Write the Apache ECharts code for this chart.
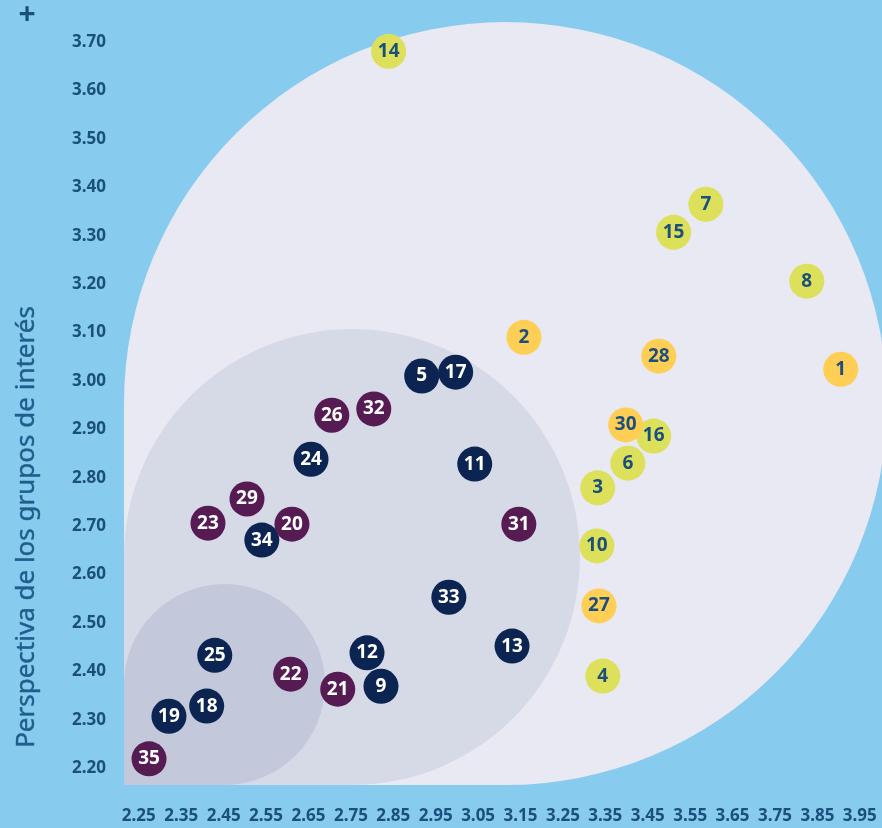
<!DOCTYPE html>
<html>
<head>
<meta charset="utf-8">
<script src="https://cdn.jsdelivr.net/npm/echarts@6/dist/echarts.min.js"></script>
<style>
html,body{margin:0;padding:0;background:#87CBEF;}
#chart{width:882px;height:828px;}
</style>
</head>
<body>
<div id="chart"></div>
<script>
// ---- data ----
const pointIds = ['1','2','3','4','5','6','7','8','9','10','11','12','13','14','15','16','17','18','19','20','21','22','23','24','25','26','27','28','29','30','31','32','33','34','35'];
const xValues = [3.905,3.158,3.332,3.344,2.917,3.403,3.587,3.825,2.821,3.330,3.042,2.788,3.130,2.839,3.511,3.464,2.997,2.410,2.321,2.611,2.719,2.608,2.413,2.656,2.429,2.705,3.335,3.476,2.505,3.398,3.146,2.804,2.981,2.540,2.274];
const yValues = [3.024,3.090,2.779,2.390,3.010,2.830,3.365,3.206,2.369,2.659,2.828,2.438,2.452,3.681,3.307,2.886,3.018,2.328,2.307,2.704,2.363,2.394,2.706,2.838,2.433,2.929,2.535,3.051,2.756,2.909,2.704,2.942,2.553,2.671,2.219];
const pointGroups = ['orange','orange','lime','lime','navy','lime','lime','lime','navy','lime','navy','navy','navy','lime','lime','lime','navy','navy','navy','purple','purple','purple','purple','navy','navy','purple','orange','orange','purple','orange','purple','purple','navy','navy','purple'];
const groupNames = ['lime','orange','navy','purple'];
const xTickLabels = [2.25,2.35,2.45,2.55,2.65,2.75,2.85,2.95,3.05,3.15,3.25,3.35,3.45,3.55,3.65,3.75,3.85,3.95];
const yTickLabels = [2.20,2.30,2.40,2.50,2.60,2.70,2.80,2.90,3.00,3.10,3.20,3.30,3.40,3.50,3.60,3.70];
const zoneReachX = [4.014, 3.290, 2.689];
const yTitle = 'Perspectiva de los grupos de interés';

// ---- styles ----
const X_MIN = 2.215, X_MAX = 4.0, Y_MIN = 2.165, Y_MAX = 3.75;
const groupStyle = {
  lime:   {fill:'#DCE05B', text:'#1B4F7C'},
  orange: {fill:'#FFCF55', text:'#1B4F7C'},
  navy:   {fill:'#0B2452', text:'#FFFFFF'},
  purple: {fill:'#561B53', text:'#FFFFFF'}
};
const zoneColors = ['#E8E9F2','#D6DAE6','#C3C8DB'];
const labelColor = '#1B4F7C';
const FONT = '"Noto Sans", "Open Sans", sans-serif';

const chart = echarts.init(document.getElementById('chart'));

const scatterSeries = groupNames.map(g => ({
  type:'scatter',
  name:g,
  symbolSize:35,
  z:5,
  itemStyle:{color:groupStyle[g].fill, opacity:1},
  label:{show:true, position:'inside', formatter:p=>p.name, color:groupStyle[g].text,
         fontFamily:FONT, fontWeight:'bold', fontSize:19},
  data: pointIds.map((id,i)=>({id, i})).filter(o=>pointGroups[o.i]===g)
        .map(o=>({name:o.id, value:[xValues[o.i], yValues[o.i]]}))
}));

const option = {
  backgroundColor:'#87CBEF',
  animation:false,
  grid:{left:124, right:1, top:17.9, bottom:43, containLabel:false, outerBoundsMode:'none'},
  xAxis:{
    type:'value', min:X_MIN, max:X_MAX,
    axisLine:{show:false}, axisTick:{show:false}, splitLine:{show:false},
    axisLabel:{customValues:xTickLabels, formatter:v=>v.toFixed(2), color:labelColor,
      fontFamily:FONT, fontWeight:'bold', fontSize:17, margin:23, hideOverlap:false}
  },
  yAxis:{
    type:'value', min:Y_MIN, max:Y_MAX,
    axisLine:{show:false}, axisTick:{show:false}, splitLine:{show:false},
    axisLabel:{customValues:yTickLabels, formatter:v=>v.toFixed(2), color:labelColor,
      fontFamily:FONT, fontWeight:'bold', fontSize:17, margin:18, hideOverlap:false}
  },
  graphic:[
    {type:'text', x:27, y:527, rotation:Math.PI/2,
     style:{text:yTitle, fill:'#1F5E8C', font:'normal 26px ' + FONT, align:'center', verticalAlign:'middle',
            textAlign:'center', textVerticalAlign:'middle', stroke:'#1F5E8C', lineWidth:0.4}},
    {type:'text', x:27, y:15,
     style:{text:'+', fill:'#1B4F7C', font:'bold 30px ' + FONT, align:'center', verticalAlign:'middle',
            textAlign:'center', textVerticalAlign:'middle'}}
  ],
  series:[
    {
      type:'custom', z:1, silent:true,
      renderItem:function(params, api){
        const reach = api.value(0);
        const origin = api.coord([X_MIN, Y_MIN]);
        const right = api.coord([reach, Y_MIN])[0];
        const s = right - origin[0];
        const r = s/2;
        return {type:'rect', shape:{x:origin[0], y:origin[1]-s, width:s, height:s, r:[r,r,r,0]},
                style:{fill:zoneColors[params.dataIndex]}};
      },
      data: zoneReachX.map(v=>[v, Y_MIN])
    }
  ].concat(scatterSeries)
};
chart.setOption(option);
</script>
</body>
</html>
